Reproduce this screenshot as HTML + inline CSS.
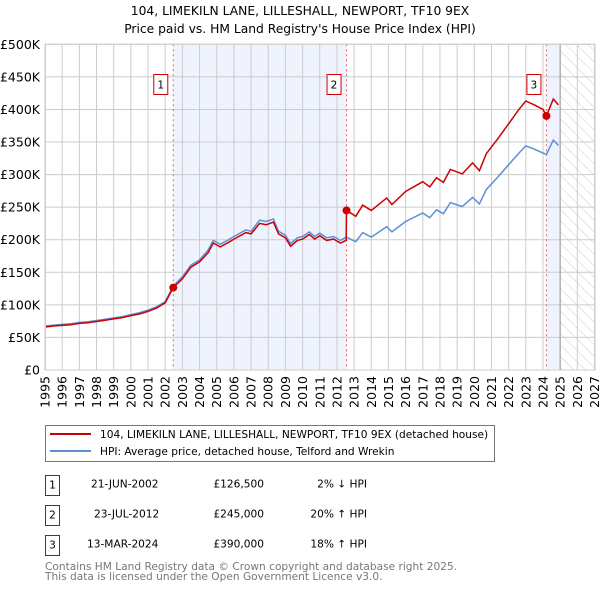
<!DOCTYPE html>
<html><head><meta charset="utf-8"><style>
body{margin:0;background:#fff;}
svg text{font-family:"DejaVu Sans","Liberation Sans",sans-serif;}
</style></head><body>
<svg id="c" width="600" height="590" viewBox="0 0 600 590" xmlns="http://www.w3.org/2000/svg">
<defs><pattern id="hatch" width="8" height="8" patternUnits="userSpaceOnUse" patternTransform="rotate(-45)"><line x1="0" y1="0" x2="0" y2="8" stroke="#ccc" stroke-width="1"/></pattern></defs>
<text x="300" y="15" text-anchor="middle" font-size="12.3">104, LIMEKILN LANE, LILLESHALL, NEWPORT, TF10 9EX</text>
<text x="300" y="33" text-anchor="middle" font-size="12.3">Price paid vs. HM Land Registry's House Price Index (HPI)</text>
<g id="plot"></g>
<g>
<rect x="45.5" y="425.5" width="449" height="36" fill="#fff" stroke="#777"/>
<line x1="50" y1="434" x2="91" y2="434" stroke="#cc0000" stroke-width="2"/>
<text x="100" y="438" font-size="10.6">104, LIMEKILN LANE, LILLESHALL, NEWPORT, TF10 9EX (detached house)</text>
<line x1="50" y1="451" x2="91" y2="451" stroke="#5b8fd6" stroke-width="2"/>
<text x="100" y="455" font-size="10.6">HPI: Average price, detached house, Telford and Wrekin</text>
</g>
<g font-size="10.6">
<rect x="45.5" y="475.5" width="14" height="20" fill="#fff" stroke="#cc0000"/><text x="52.5" y="488.5" text-anchor="middle">1</text>
<text x="91" y="487.5">21-JUN-2002</text><text x="264" y="487.5" text-anchor="end">£126,500</text><text x="367" y="487.5" text-anchor="end">2% ↓ HPI</text>
<rect x="45.5" y="505.5" width="14" height="20" fill="#fff" stroke="#cc0000"/><text x="52.5" y="518.5" text-anchor="middle">2</text>
<text x="94" y="517.5">23-JUL-2012</text><text x="264" y="517.5" text-anchor="end">£245,000</text><text x="367" y="517.5" text-anchor="end">20% ↑ HPI</text>
<rect x="45.5" y="535.5" width="14" height="20" fill="#fff" stroke="#cc0000"/><text x="52.5" y="548.5" text-anchor="middle">3</text>
<text x="87" y="547.5">13-MAR-2024</text><text x="264" y="547.5" text-anchor="end">£390,000</text><text x="367" y="547.5" text-anchor="end">18% ↑ HPI</text>
</g>
<text x="45" y="570" font-size="10.6" fill="#777">Contains HM Land Registry data © Crown copyright and database right 2025.</text>
<text x="45" y="580" font-size="10.6" fill="#777">This data is licensed under the Open Government Licence v3.0.</text>
</svg>
<script>
const hpiYears=[1995,1995.5,1996,1996.5,1997,1997.5,1998,1998.5,1999,1999.5,2000,2000.5,2001,2001.5,2002,2002.47,2003,2003.5,2004,2004.5,2004.8,2005.2,2005.7,2006,2006.7,2007,2007.5,2007.9,2008.3,2008.6,2009.0,2009.3,2009.7,2010,2010.4,2010.7,2011,2011.4,2011.8,2012.2,2012.55,2013.1,2013.5,2014,2014.9,2015.2,2016,2017,2017.4,2017.8,2018.2,2018.6,2019.3,2019.9,2020.3,2020.7,2021.4,2022,2022.6,2023,2023.5,2024.0,2024.2,2024.6,2024.9];
const hpiValues=[67.5,69,70,71,73,74,76,78,80,82,85,88,92,97,105,129,143,161,169,184,199,193,200,205,215,213,230,228,232,213,207,194,203,205,212,205,210,203,205,199,204,197,211,204,220,212,228,241,234,246,240,257,251,265,255,277,297,315,333,344,339,333,331,353,345];
const priceYears=[1995,1995.5,1996,1996.5,1997,1997.5,1998,1998.5,1999,1999.5,2000,2000.5,2001,2001.5,2002,2002.47,2003,2003.5,2004,2004.5,2004.8,2005.2,2005.7,2006,2006.7,2007,2007.5,2007.9,2008.3,2008.6,2009.0,2009.3,2009.7,2010,2010.4,2010.7,2011,2011.4,2011.8,2012.2,2012.54,2012.56,2013.1,2013.5,2014,2014.9,2015.2,2016,2017,2017.4,2017.8,2018.2,2018.6,2019.3,2019.9,2020.3,2020.7,2021.4,2022,2022.6,2023,2023.5,2024.0,2024.2,2024.6,2024.9];
const priceValues=[66,67.5,68.5,69.5,71.5,72.5,74.5,76.5,78.5,80.5,83.5,86,90,95,103,126.5,140,158,166,180,195,189,196,201,211,209,225,223,227,209,203,190,199,201,208,201,206,199,201,195,199,245,236,253,245,264,254,274,289,281,295,288,308,301,318,306,332,356,378,400,413,407,400,390,416,407];
const saleYears=[2002.47,2012.56,2024.2];
const saleValues=[126.5,245,390];
const saleLabels=["1","2","3"];
const yTicks=[0,50,100,150,200,250,300,350,400,450,500];
const yTickLabels=["£0","£50K","£100K","£150K","£200K","£250K","£300K","£350K","£400K","£450K","£500K"];
const xTicks=[1995,1996,1997,1998,1999,2000,2001,2002,2003,2004,2005,2006,2007,2008,2009,2010,2011,2012,2013,2014,2015,2016,2017,2018,2019,2020,2021,2022,2023,2024,2025,2026,2027];

const X0=45,X1=594.5,Y0=370,Y1=44.3;
const xs=y=>X0+(y-1995)/(2027-1995)*(X1-X0);
const ys=v=>Y0-v/500*(Y0-Y1);
const NS="http://www.w3.org/2000/svg";
const g=document.getElementById('plot');
function mk(t,a){const e=document.createElementNS(NS,t);for(const k in a)e.setAttribute(k,a[k]);g.appendChild(e);return e;}
let e;
e=mk('rect',{x:xs(saleYears[0]),y:Y1,width:xs(saleYears[1])-xs(saleYears[0]),height:Y0-Y1,fill:'#eef3fd'});


e=mk('rect',{x:xs(saleYears[2]),y:Y1,width:xs(2025)-xs(saleYears[2]),height:Y0-Y1,fill:'#eef3fd'});


e=mk('rect',{x:xs(2025),y:Y1,width:X1-xs(2025),height:Y0-Y1,fill:'url(#hatch)'});


yTicks.forEach((t,i)=>{
 e=mk('line',{x1:X0,x2:X1,y1:ys(t),y2:ys(t),stroke:'#ccc','stroke-width':1});
 
 
 e=mk('text',{x:40,y:ys(t)+4.5,'text-anchor':'end','font-size':12.5});
 e.textContent=yTickLabels[i];
 
 
});
xTicks.forEach(t=>{
 e=mk('line',{x1:xs(t),x2:xs(t),y1:Y1,y2:Y0,stroke:'#ccc','stroke-width':1});
 
 
 e=mk('text',{x:0,y:0,'text-anchor':'end','font-size':12.5,transform:`translate(${xs(t)+4.5},${Y0+6}) rotate(-90)`});
 e.textContent=String(t);
 
 
});
e=mk('line',{x1:xs(2025),x2:xs(2025),y1:Y1,y2:Y0,stroke:'#999','stroke-width':1});


saleYears.forEach((s,i)=>{
 e=mk('line',{x1:xs(s),x2:xs(s),y1:Y1,y2:Y0,stroke:'#e66','stroke-width':1,'stroke-dasharray':'2,3'});
 
 
 e=mk('rect',{x:xs(s)-19.5,y:74.5,width:14,height:20,fill:'#fff',stroke:'#cc0000'});
 
 
 e=mk('text',{x:xs(s)-12.5,y:88.5,'text-anchor':'middle','font-size':10.6});
 e.textContent=saleLabels[i];
 
 
});
e=mk('path',{d:hpiYears.map((y,i)=>(i?'L':'M')+xs(y).toFixed(1)+','+ys(hpiValues[i]).toFixed(1)).join(''),fill:'none',stroke:'#5b8fd6','stroke-width':1.5});


e=mk('path',{d:priceYears.map((y,i)=>(i?'L':'M')+xs(y).toFixed(1)+','+ys(priceValues[i]).toFixed(1)).join(''),fill:'none',stroke:'#cc0000','stroke-width':1.5});


saleYears.forEach((s,i)=>{
 e=mk('circle',{cx:xs(s),cy:ys(saleValues[i]),r:4,fill:'#cc0000'});
 
 
});
e=mk('rect',{x:X0+0.5,y:Y1,width:X1-X0,height:Y0-Y1,fill:'none',stroke:'#ccc'});


</script>
</body></html>
